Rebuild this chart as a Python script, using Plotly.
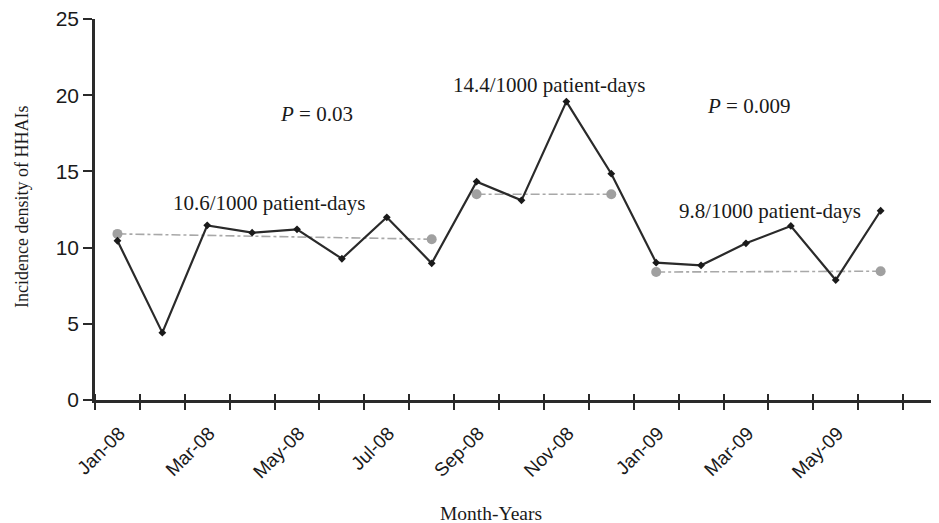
import plotly.graph_objects as go

months = ["Jan-08", "Feb-08", "Mar-08", "Apr-08", "May-08", "Jun-08", "Jul-08", "Aug-08",
          "Sep-08", "Oct-08", "Nov-08", "Dec-08", "Jan-09", "Feb-09", "Mar-09", "Apr-09",
          "May-09", "Jun-09"]
density = [10.45, 4.42, 11.46, 10.98, 11.2, 9.27, 11.99, 8.97,
           14.33, 13.1, 19.58, 14.85, 9.01, 8.84, 10.28, 11.42, 7.87, 12.42]

# period mean lines: (start month, end month, start value, end value)
period_start = ["Jan-08", "Sep-08", "Jan-09"]
period_end = ["Aug-08", "Dec-08", "Jun-09"]
period_y_start = [10.9, 13.5, 8.4]
period_y_end = [10.55, 13.5, 8.45]

label_months = ["Jan-08", "Mar-08", "May-08", "Jul-08", "Sep-08", "Nov-08", "Jan-09", "Mar-09", "May-09"]
y_ticks = [0, 5, 10, 15, 20, 25]

# annotations: text, x (month position, fractional), y
ann_text = ["<i>P</i> = 0.03", "10.6/1000 patient-days", "14.4/1000 patient-days",
            "<i>P</i> = 0.009", "9.8/1000 patient-days"]
ann_x = [4.43, 3.37, 9.62, 14.05, 14.53]
ann_y = [18.8, 12.9, 20.7, 19.3, 12.4]

idx = {m: i for i, m in enumerate(months)}
xs = [idx[m] for m in months]

fig = go.Figure()

for s, e, ys, ye in zip(period_start, period_end, period_y_start, period_y_end):
    fig.add_trace(go.Scatter(
        x=[idx[s], idx[e]], y=[ys, ye], mode="lines+markers",
        line=dict(color="#a8a8a8", width=1.6, dash="dashdot"),
        marker=dict(symbol="circle", size=10, color="#a0a0a0"),
        showlegend=False, hoverinfo="skip", cliponaxis=False))

fig.add_trace(go.Scatter(
    x=xs, y=density, mode="lines+markers",
    line=dict(color="#2a2a2a", width=2.2),
    marker=dict(symbol="diamond", size=6, color="#1a1a1a"),
    showlegend=False))

for t, x, y in zip(ann_text, ann_x, ann_y):
    fig.add_annotation(x=x, y=y, text=t, showarrow=False,
                       font=dict(family="Liberation Serif", size=21, color="#1a1a1a"))

fig.add_annotation(x=0.469, y=-0.2966, xref="paper", yref="paper", text="Month-Years",
                   showarrow=False, xanchor="center", yanchor="middle",
                   font=dict(family="Liberation Serif", size=19.5, color="#1a1a1a"))
fig.add_annotation(x=-0.0865, y=0.5066, xref="paper", yref="paper", text="Incidence density of HHAIs",
                   showarrow=False, xanchor="center", yanchor="middle", textangle=-90,
                   font=dict(family="Liberation Serif", size=18, color="#1a1a1a"))

# overlay axis to draw the upper half of crossing x ticks
fig.add_trace(go.Scatter(x=[0], y=[0], xaxis="x2", mode="markers",
                         marker=dict(opacity=0), showlegend=False, hoverinfo="skip"))

fig.update_layout(
    width=931, height=515,
    margin=dict(l=87, r=0, t=11, b=123),
    paper_bgcolor="white", plot_bgcolor="white",
    xaxis=dict(
        range=[-0.5, 18.3], showgrid=False, zeroline=False,
        showline=True, linecolor="#2a2a2a", linewidth=2.5,
        tickvals=[idx[m] for m in label_months], ticktext=label_months,
        ticks="", tickangle=-45, ticklabelshift=2, ticklabelstandoff=12,
        tickfont=dict(family="Liberation Sans", size=19, color="#1a1a1a"),
        minor=dict(tick0=-0.5, dtick=1, ticks="outside", ticklen=7, tickwidth=2, tickcolor="#2a2a2a"),
    ),
    xaxis2=dict(
        overlaying="x", matches="x", anchor="y", side="bottom",
        showgrid=False, zeroline=False, showline=False, showticklabels=False,
        ticks="",
        minor=dict(tick0=-0.5, dtick=1, ticks="inside", ticklen=6, tickwidth=2, tickcolor="#2a2a2a"),
    ),
    yaxis=dict(
        range=[0, 25.001], tickvals=y_ticks, showgrid=False, zeroline=False,
        showline=True, linecolor="#2a2a2a", linewidth=2.5,
        ticks="outside", ticklen=9, tickwidth=2, tickcolor="#2a2a2a",
        ticklabelstandoff=0, ticklabeloverflow="allow",
        tickfont=dict(family="Liberation Sans", size=21, color="#1a1a1a"),
    ),
)

fig.write_html("out.html")
